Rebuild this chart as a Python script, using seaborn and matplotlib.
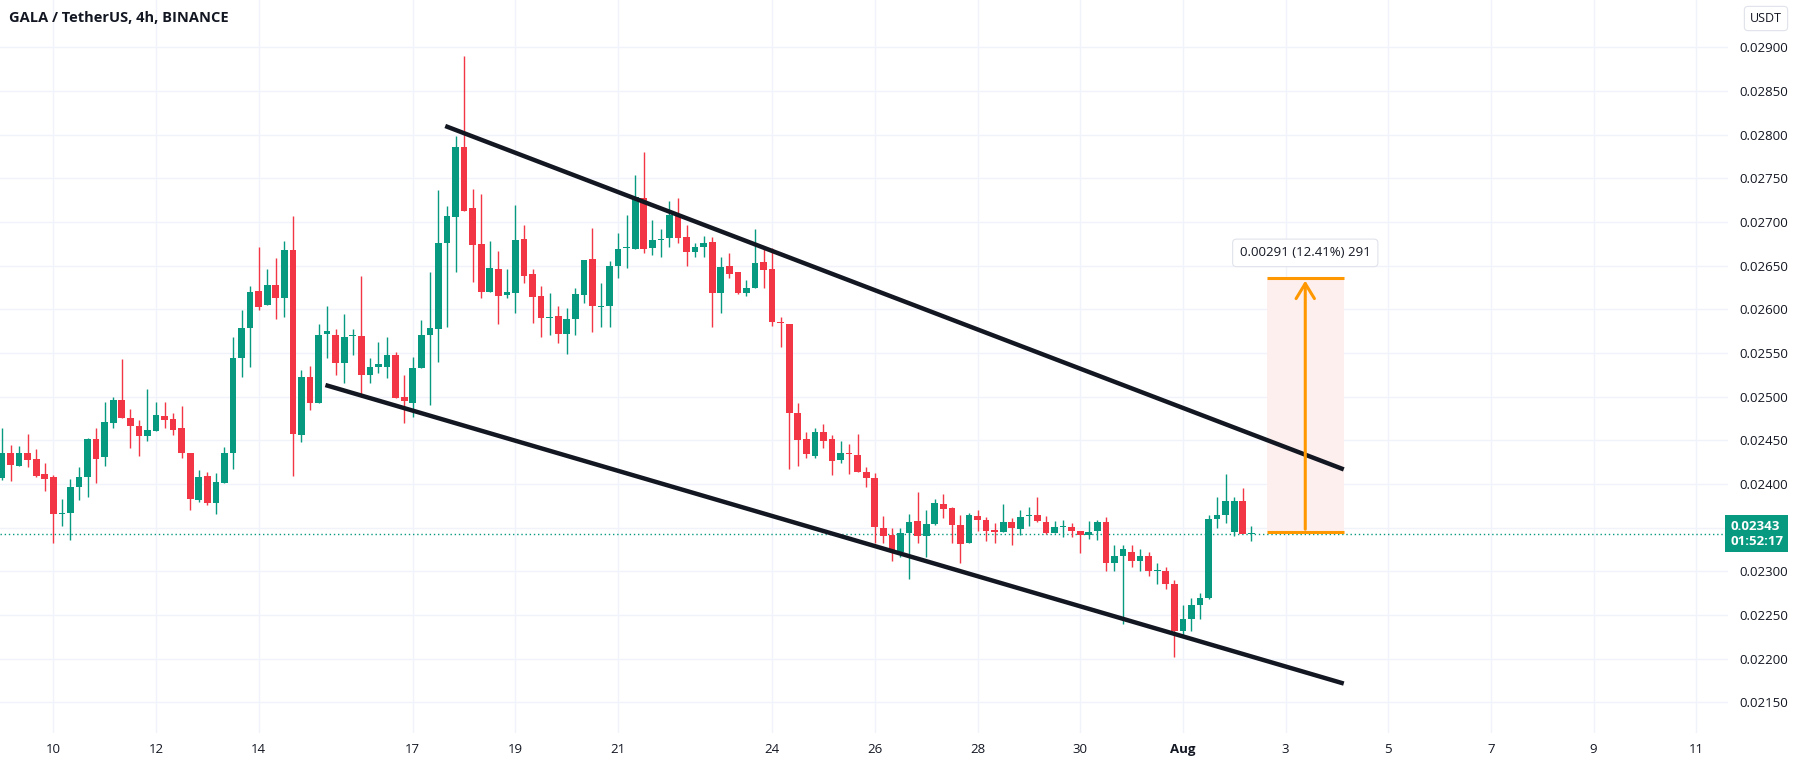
import numpy as np
import pandas as pd
import matplotlib
matplotlib.use("Agg")
import matplotlib.pyplot as plt
import matplotlib.transforms as mtransforms
import seaborn as sns

# 4h candles, GALA/USDT, first candle 2023-07-09 00:00
START = "2023-07-09 00:00"

opens = [0.024066, 0.024352, 0.024210, 0.024352, 0.024283, 0.024115,
         0.024085, 0.023654, 0.023665, 0.023963, 0.024085, 0.024512,
         0.024306, 0.024703, 0.024962, 0.024760, 0.024669, 0.024554,
         0.024611, 0.024779, 0.024741, 0.024638, 0.024360, 0.023818,
         0.024092, 0.023787, 0.024016, 0.024352, 0.025447, 0.025782,
         0.026210, 0.026050, 0.026279, 0.026126, 0.026679, 0.024560,
         0.025229, 0.024924, 0.025717, 0.025706, 0.025382, 0.025695,
         0.025695, 0.025248, 0.025344, 0.025344, 0.025477, 0.024993,
         0.024932, 0.025325, 0.025706, 0.025771, 0.026756, 0.027061,
         0.027855, 0.027157, 0.026748, 0.026202, 0.026458, 0.026165,
         0.026191, 0.026802, 0.026405, 0.026153, 0.025897, 0.025924,
         0.025718, 0.025886, 0.026164, 0.026572, 0.026030, 0.026042,
         0.026496, 0.026698, 0.026687, 0.027271, 0.026698, 0.026794,
         0.026813, 0.027080, 0.026824, 0.026660, 0.026710, 0.026767,
         0.026191, 0.026496, 0.026431, 0.026191, 0.026240, 0.026546,
         0.026458, 0.025859, 0.025832, 0.024810, 0.024512, 0.024321,
         0.024592, 0.024512, 0.024275, 0.024351, 0.024332, 0.024142,
         0.024065, 0.023493, 0.023417, 0.023226, 0.023443, 0.023581,
         0.023405, 0.023543, 0.023771, 0.023722, 0.023531, 0.023321,
         0.023634, 0.023588, 0.023474, 0.023455, 0.023569, 0.023481,
         0.023634, 0.023646, 0.023569, 0.023443, 0.023504, 0.023504,
         0.023466, 0.023417, 0.023466, 0.023570, 0.023100, 0.023180,
         0.023220, 0.023120, 0.023180, 0.023000, 0.023000, 0.022850,
         0.022320, 0.022450, 0.022620, 0.022700, 0.023600, 0.023650,
         0.023450, 0.023800, 0.023430]
highs = [0.024638, 0.024447, 0.024440, 0.024569, 0.024401, 0.024245,
         0.024104, 0.023825, 0.024058, 0.024199, 0.024524, 0.024638,
         0.024943, 0.024993, 0.025432, 0.024856, 0.024733, 0.025085,
         0.024936, 0.024936, 0.024810, 0.024898, 0.024360, 0.024161,
         0.024134, 0.024123, 0.024428, 0.025687, 0.025993, 0.026267,
         0.026718, 0.026458, 0.026584, 0.026786, 0.027069, 0.025310,
         0.025351, 0.025832, 0.026038, 0.025771, 0.025947, 0.025775,
         0.026382, 0.025439, 0.025630, 0.025680, 0.025515, 0.025248,
         0.025458, 0.025878, 0.026431, 0.027366, 0.027183, 0.027984,
         0.028900, 0.027374, 0.027320, 0.026786, 0.026672, 0.026458,
         0.027195, 0.026966, 0.026458, 0.026267, 0.026191, 0.026038,
         0.026011, 0.026240, 0.026565, 0.026927, 0.026305, 0.026557,
         0.026870, 0.027080, 0.027538, 0.027805, 0.027023, 0.026916,
         0.027244, 0.027271, 0.026965, 0.026763, 0.026840, 0.026824,
         0.026603, 0.026649, 0.026431, 0.026336, 0.026916, 0.026687,
         0.026698, 0.025908, 0.025832, 0.024932, 0.024600, 0.024638,
         0.024687, 0.024561, 0.024496, 0.024458, 0.024573, 0.024191,
         0.024130, 0.023634, 0.023493, 0.023493, 0.023657, 0.023913,
         0.023703, 0.023825, 0.023886, 0.023733, 0.023645, 0.023672,
         0.023703, 0.023627, 0.023550, 0.023771, 0.023607, 0.023703,
         0.023741, 0.023848, 0.023634, 0.023581, 0.023588, 0.023550,
         0.023466, 0.023581, 0.023588, 0.023620, 0.023300, 0.023300,
         0.023300, 0.023250, 0.023220, 0.023100, 0.023050, 0.022900,
         0.022620, 0.022700, 0.022750, 0.023650, 0.023850, 0.024120,
         0.023850, 0.023950, 0.023520]
lows = [0.024047, 0.024035, 0.024210, 0.024192, 0.024085, 0.023925,
        0.023320, 0.023520, 0.023360, 0.023818, 0.023856, 0.024008,
        0.024207, 0.024638, 0.024760, 0.024417, 0.024321, 0.024493,
        0.024611, 0.024638, 0.024562, 0.024295, 0.023703, 0.023799,
        0.023760, 0.023654, 0.024016, 0.024169, 0.025222, 0.025336,
        0.025993, 0.026050, 0.025886, 0.025909, 0.024092, 0.024480,
        0.024848, 0.024924, 0.025439, 0.025248, 0.025161, 0.025477,
        0.025000, 0.025161, 0.025267, 0.025210, 0.024981, 0.024695,
        0.024771, 0.025325, 0.024905, 0.025401, 0.025794, 0.026431,
        0.027130, 0.026317, 0.026126, 0.026202, 0.025832, 0.026126,
        0.025954, 0.026298, 0.025840, 0.025679, 0.025706, 0.025611,
        0.025489, 0.025706, 0.026076, 0.025744, 0.025801, 0.025794,
        0.026355, 0.026469, 0.026687, 0.026641, 0.026622, 0.026595,
        0.026710, 0.026763, 0.026496, 0.026603, 0.026603, 0.025801,
        0.025954, 0.026355, 0.026176, 0.026153, 0.026240, 0.026240,
        0.025809, 0.025573, 0.024168, 0.024206, 0.024294, 0.024294,
        0.024409, 0.024103, 0.024245, 0.024115, 0.024142, 0.023962,
        0.023321, 0.023321, 0.023123, 0.023161, 0.022909, 0.023321,
        0.023161, 0.023531, 0.023607, 0.023321, 0.023092, 0.023321,
        0.023466, 0.023352, 0.023321, 0.023455, 0.023302, 0.023417,
        0.023520, 0.023569, 0.023428, 0.023443, 0.023390, 0.023398,
        0.023214, 0.023367, 0.023359, 0.023000, 0.023000, 0.022400,
        0.023050, 0.023000, 0.022950, 0.022850, 0.022800, 0.022020,
        0.022250, 0.022320, 0.022450, 0.022680, 0.023500, 0.023550,
        0.023400, 0.023450, 0.023350]
closes = [0.024352, 0.024218, 0.024352, 0.024276, 0.024096, 0.024062,
          0.023654, 0.023673, 0.023970, 0.024085, 0.024512, 0.024283,
          0.024711, 0.024962, 0.024760, 0.024669, 0.024554, 0.024619,
          0.024791, 0.024733, 0.024619, 0.024360, 0.023825, 0.024077,
          0.023787, 0.024024, 0.024352, 0.025439, 0.025783, 0.026202,
          0.026031, 0.026279, 0.026126, 0.026679, 0.024573, 0.025229,
          0.024924, 0.025706, 0.025748, 0.025389, 0.025687, 0.025710,
          0.025248, 0.025344, 0.025374, 0.025477, 0.024981, 0.024955,
          0.025325, 0.025706, 0.025783, 0.026756, 0.027069, 0.027855,
          0.027130, 0.026737, 0.026202, 0.026470, 0.026157, 0.026195,
          0.026794, 0.026382, 0.026145, 0.025897, 0.025916, 0.025718,
          0.025886, 0.026176, 0.026565, 0.026042, 0.026042, 0.026496,
          0.026691, 0.026702, 0.027290, 0.026687, 0.026794, 0.026805,
          0.027080, 0.026813, 0.026660, 0.026717, 0.026756, 0.026191,
          0.026488, 0.026405, 0.026183, 0.026240, 0.026534, 0.026450,
          0.025859, 0.025847, 0.024817, 0.024504, 0.024344, 0.024600,
          0.024497, 0.024267, 0.024351, 0.024344, 0.024142, 0.024065,
          0.023504, 0.023405, 0.023226, 0.023443, 0.023569, 0.023405,
          0.023543, 0.023779, 0.023710, 0.023531, 0.023314, 0.023646,
          0.023588, 0.023466, 0.023455, 0.023569, 0.023493, 0.023627,
          0.023646, 0.023581, 0.023443, 0.023504, 0.023512, 0.023466,
          0.023417, 0.023455, 0.023569, 0.023100, 0.023180, 0.023250,
          0.023120, 0.023180, 0.023000, 0.023000, 0.022850, 0.022320,
          0.022450, 0.022620, 0.022700, 0.023600, 0.023650, 0.023800,
          0.023800, 0.023430, 0.023430]

last_price = 0.02343
countdown = "01:52:17"
title = "GALA / TetherUS, 4h, BINANCE"
tick_days = ["2023-07-10", "2023-07-12", "2023-07-14", "2023-07-17", "2023-07-19",
             "2023-07-21", "2023-07-24", "2023-07-26", "2023-07-28", "2023-07-30",
             "2023-08-01", "2023-08-03", "2023-08-05", "2023-08-07", "2023-08-09",
             "2023-08-11"]
tick_labels = ["10", "12", "14", "17", "19", "21", "24", "26", "28", "30",
               "Aug", "3", "5", "7", "9", "11"]
price_ticks = np.arange(0.0215, 0.02901, 0.0005)

# channel lines (bar index, price)
upper_line = ([51.8, 156.8], [0.028099, 0.024167])
lower_line = ([37.8, 156.8], [0.025133, 0.021715])
# price range tool
range_bars = (147.8, 156.8)
range_low = 0.02345
range_delta = 0.00291
range_text = "0.00291 (12.41%) 291"

UP = "#089981"
DOWN = "#f23645"
TXT = "#131722"
GRID = "#f0f3fa"

df = pd.DataFrame({"open": opens, "high": highs, "low": lows, "close": closes})
df["time"] = pd.date_range(START, periods=len(df), freq="4h")
df["bar"] = np.arange(len(df))
df["color"] = np.where(df["close"] >= df["open"], UP, DOWN)

sns.set_theme(style="white")
plt.rcParams["font.family"] = ["Open Sans", "DejaVu Sans"]

fig = plt.figure(figsize=(18.02, 7.66), dpi=100)
ax = fig.add_axes([0, 33 / 766, 1728 / 1802, 733 / 766])

# grid
t0 = pd.Timestamp(START)
tick_pos = [(pd.Timestamp(d) - t0) / pd.Timedelta("4h") for d in tick_days]
for p in price_ticks:
    ax.axhline(p, color=GRID, lw=1, zorder=0)
for x in tick_pos:
    ax.axvline(x, color=GRID, lw=1, zorder=0)

# candles
ax.vlines(df["bar"], df["low"], df["high"], colors=df["color"], lw=1, zorder=2)
body_lo = np.minimum(df["open"], df["close"])
body_h = np.maximum(np.abs(df["close"] - df["open"]), 0.000012)
ax.bar(df["bar"], body_h, bottom=body_lo, width=0.78, color=df["color"],
       linewidth=0, zorder=3)

# last price dotted line
ax.axhline(last_price, color=UP, lw=1, ls=(0, (1, 2)), zorder=1)

# channel
sns.lineplot(x=upper_line[0], y=upper_line[1], color=TXT, lw=3.2, ax=ax,
             zorder=4, solid_capstyle="butt")
sns.lineplot(x=lower_line[0], y=lower_line[1], color=TXT, lw=3.2, ax=ax,
             zorder=4, solid_capstyle="butt")

# price range tool
x0, x1 = range_bars
xm = (x0 + x1) / 2
top = range_low + range_delta
ax.fill_between([x0, x1], range_low, top, color="#fdefed", zorder=1, lw=0)
ax.hlines([range_low, top], x0, x1, color="#ff9800", lw=2.2, zorder=5)
ax.annotate("", xy=(xm, top), xytext=(xm, range_low),
            arrowprops=dict(arrowstyle="->,head_length=0.9,head_width=0.55",
                            color="#ff9800", lw=2.2), zorder=5)
ax.annotate(range_text, xy=(xm, top), xytext=(0, 18), textcoords="offset points",
            ha="center", va="center", fontsize=9.5, color=TXT, zorder=6,
            bbox=dict(boxstyle="round,pad=0.55,rounding_size=0.3", fc="white",
                      ec="#e0e3eb", lw=0.8))

ax.set_xlim(-0.23, 201.7)
ax.set_ylim(0.0211489, 0.0295416)
for s in ax.spines.values():
    s.set_visible(False)

ax.set_xticks(tick_pos)
ax.set_xticklabels(tick_labels)
ax.tick_params(axis="x", length=0, pad=7, labelsize=9.5, colors=TXT)
for lbl in ax.get_xticklabels():
    if lbl.get_text() == "Aug":
        lbl.set_fontweight("bold")
ax.yaxis.tick_right()
ax.set_yticks(price_ticks)
ax.set_yticklabels([f"{p:.5f}" for p in price_ticks])
ax.tick_params(axis="y", length=0, pad=8, labelsize=9.5, colors=TXT)
ax.grid(False)

# title
ax.text(9 / 1728, 1 - 18 / 733, title, transform=ax.transAxes, ha="left",
        va="center", fontsize=10.5, fontweight="bold", color=TXT)

# last price label on the axis (covers the 0.02350 tick label, as on the chart)
trans = mtransforms.blended_transform_factory(ax.transAxes, ax.transData)
ax.text(1.0012, last_price, f"{last_price:.5f}\n{countdown}", transform=trans,
        ha="left", va="center", fontsize=9.5, color="white", fontweight="bold",
        linespacing=1.15, zorder=10, clip_on=False,
        bbox=dict(boxstyle="square,pad=0.35", fc=UP, ec="none"))

fig.text(1766 / 1802, 1 - 18.5 / 766, "USDT", ha="center", va="center",
         fontsize=9, color=TXT,
         bbox=dict(boxstyle="round,pad=0.45,rounding_size=0.3", fc="white",
                   ec="#e0e3eb", lw=0.8))

fig.savefig("out.png", dpi=100)
